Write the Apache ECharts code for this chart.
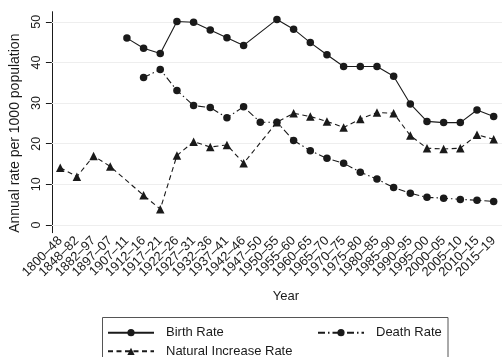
<!DOCTYPE html>
<html>
<head>
<meta charset="utf-8">
<script src="https://cdn.jsdelivr.net/npm/echarts@6/dist/echarts.min.js"></script>
<style>html,body{margin:0;padding:0;background:#fff}#c{width:502px;height:357px}</style>
</head>
<body>
<div id="c"></div>
<script>
const categories = ['1800–48','1848–82','1882–97','1897–07','1907–11','1912–16','1917–21','1922–26','1927–31','1932–36','1937–41','1942–46','1947–50','1950–55','1955–60','1960–65','1965–70','1970–75','1975–80','1980–85','1985–90','1990–95','1995–00','2000–05','2005–10','2010–15','2015–19'];
const birthRate = [null,null,null,null,46.0,43.5,42.2,50.1,49.9,48.0,46.1,44.2,null,50.6,48.2,44.9,41.9,39.0,39.0,39.0,36.6,29.8,25.5,25.2,25.2,28.3,26.7];
const deathRate = [null,null,null,null,null,36.3,38.3,33.1,29.4,28.9,26.4,29.1,25.3,25.3,20.8,18.3,16.4,15.2,13.0,11.3,9.2,7.8,6.8,6.6,6.3,6.1,5.8];
const naturalIncrease = [14.1,11.9,17.0,14.4,null,7.3,3.9,17.1,20.5,19.2,19.7,15.2,null,25.3,27.5,26.7,25.5,24.0,26.1,27.7,27.5,22.0,18.9,18.7,18.9,22.2,21.1];
const yTicks = [0,10,20,30,40,50];

const ink = '#1a1a1a';
const font = 'Liberation Sans';
const legendBase = {
  orient: 'vertical', padding: [0,0,0,5],
  itemWidth: 46, itemHeight: 9,
  textStyle: {fontFamily: font, fontSize: 13, color: ink, padding: [0,0,0,7]}
};
const chart = echarts.init(document.getElementById('c'), null, {renderer:'canvas'});
chart.setOption({
  animation: false,
  backgroundColor: '#fff',
  textStyle: {fontFamily: font, color: ink},
  grid: {left: 45.8, right: -3.2, top: 11.7, bottom: 124.3},
  xAxis: {
    type: 'category', data: categories, boundaryGap: true,
    name: 'Year', nameLocation: 'middle', nameGap: 57,
    nameTextStyle: {fontFamily: font, fontSize: 13, color: ink, padding: [0,0,0,18]},
    axisLine: {lineStyle: {color: ink, width: 1}},
    axisTick: {alignWithLabel: true, length: 6, lineStyle: {color: ink}},
    axisLabel: {rotate: 45, interval: 0, margin: 6, fontSize: 13, fontFamily: font, color: ink},
    splitLine: {show: false}
  },
  yAxis: {
    type: 'value', min: -1.9, max: 52.5,
    name: 'Annual rate per 1000 population', nameLocation: 'middle', nameGap: 23,
    nameTextStyle: {fontFamily: font, fontSize: 14, color: ink, padding: [0,22,0,0]},
    axisLine: {show: true, lineStyle: {color: ink, width: 1}},
    axisTick: {show: true, length: 6, customValues: yTicks, lineStyle: {color: ink}},
    axisLabel: {rotate: 90, margin: 9, fontSize: 12.5, fontFamily: font, color: ink, customValues: yTicks},
    splitLine: {show: false}
  },
  legend: [
    Object.assign({}, legendBase, {left: 102, top: 326.2, data: ['Birth Rate']}),
    Object.assign({}, legendBase, {left: 102, top: 344.8, data: ['Natural Increase Rate']}),
    Object.assign({}, legendBase, {left: 312, top: 326.2, data: ['Death Rate']})
  ],
  graphic: [{
    type: 'rect', silent: true,
    shape: {x: 102.5, y: 317.5, width: 345.5, height: 50},
    style: {fill: 'none', stroke: '#555', lineWidth: 1}
  }],
  series: [
    {
      name: 'Birth Rate', type: 'line', data: birthRate, connectNulls: true,
      symbol: 'circle', symbolSize: 7.5, z: 3,
      lineStyle: {color: ink, width: 1.1, type: 'solid'},
      itemStyle: {color: ink},
      markLine: {
        silent: true, symbol: 'none', z: 1, animation: false,
        label: {show: false},
        lineStyle: {color: '#eeeeee', width: 1, type: 'solid'},
        data: yTicks.map(v => ({yAxis: v}))
      }
    },
    {
      name: 'Death Rate', type: 'line', data: deathRate, connectNulls: true,
      symbol: 'circle', symbolSize: 7.5, z: 3,
      lineStyle: {color: ink, width: 1.1, type: [7,3,1.5,3]},
      itemStyle: {color: ink}
    },
    {
      name: 'Natural Increase Rate', type: 'line', data: naturalIncrease, connectNulls: true,
      symbol: 'triangle', symbolSize: 8.5, z: 3,
      lineStyle: {color: ink, width: 1.1, type: [5,3.5]},
      itemStyle: {color: ink}
    }
  ]
});
</script>
</body>
</html>
